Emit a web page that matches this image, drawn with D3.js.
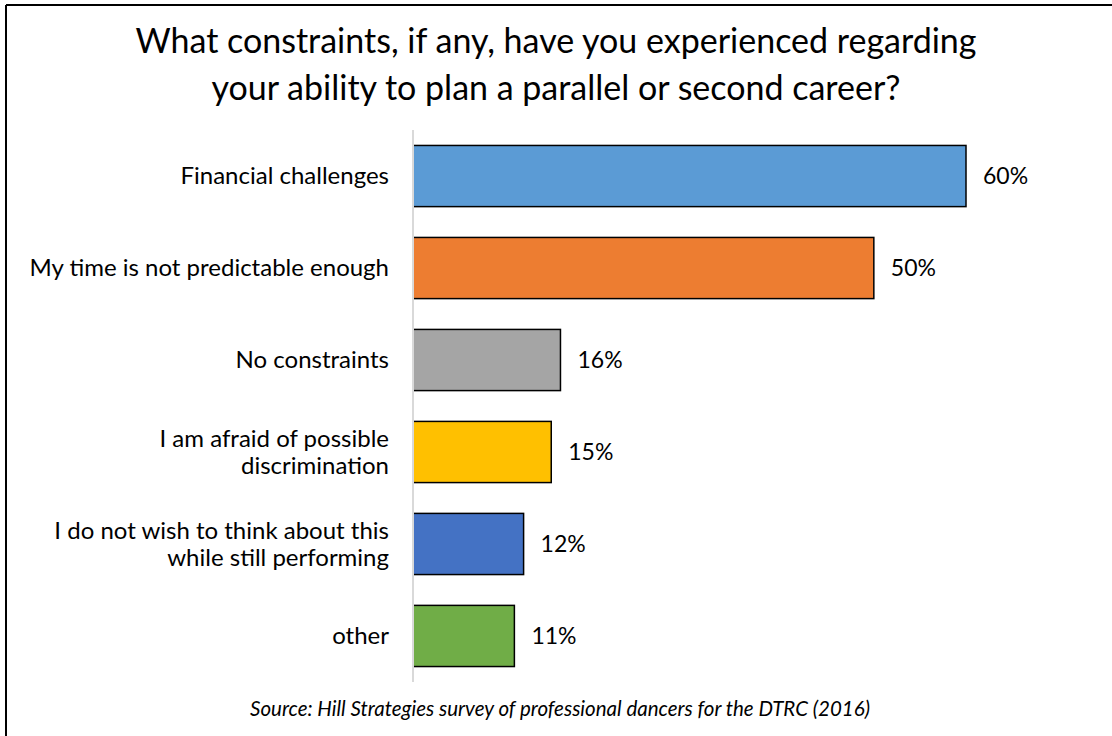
<!DOCTYPE html>
<html>
<head>
<meta charset="utf-8">
<script src="https://cdn.jsdelivr.net/npm/d3@7"></script>
<style>
  html, body { margin: 0; padding: 0; background: #fff; }
  svg { display: block; }
  text { font-family: Lato, "Open Sans", sans-serif; fill: #000; }
</style>
</head>
<body>
<svg id="chart" width="1112" height="736"></svg>
<script>
// Survey answers, one bar per constraint
const categories = [
  ["Financial challenges"],
  ["My time is not predictable enough"],
  ["No constraints"],
  ["I am afraid of possible", "discrimination"],
  ["I do not wish to think about this", "while still performing"],
  ["other"]
];
const values = [60, 50, 16, 15, 12, 11];
const barColors = ["#5B9BD5", "#ED7D31", "#A5A5A5", "#FFC000", "#4472C4", "#70AD47"];
const titleLines = [
  "What constraints, if any, have you experienced regarding",
  "your ability to plan a parallel or second career?"
];
const sourceNote = "Source: Hill Strategies survey of professional dancers for the DTRC (2016)";

const svg = d3.select("#chart");
const W = 1112, H = 736;

// frame (top and left edges visible)
svg.append("line").attr("x1", 6).attr("x2", W).attr("y1", 5).attr("y2", 5)
  .attr("stroke", "#000").attr("stroke-width", 2);
svg.append("line").attr("x1", 6).attr("x2", 6).attr("y1", 5).attr("y2", H)
  .attr("stroke", "#000").attr("stroke-width", 2);

// title
svg.append("text")
  .attr("text-anchor", "middle")
  .style("font-size", "34px")
  .selectAll("tspan").data(titleLines).join("tspan")
  .attr("x", 556)
  .attr("y", (d, i) => 53 + i * 47)
  .text(d => d);

const x0 = 413;
const x = d3.scaleLinear().domain([0, 60]).range([x0, x0 + 553]);
const y = d3.scaleBand().domain(d3.range(values.length)).range([130, 682]).paddingInner(0.335).paddingOuter(0.168);

// bars
svg.append("g").selectAll("rect").data(values).join("rect")
  .attr("x", x(0))
  .attr("y", (d, i) => y(i))
  .attr("width", d => x(d) - x(0))
  .attr("height", y.bandwidth())
  .attr("fill", (d, i) => barColors[i])
  .attr("stroke", "#000")
  .attr("stroke-width", 1.5);

// category axis line
svg.append("line")
  .attr("x1", x0).attr("x2", x0)
  .attr("y1", 130).attr("y2", 682)
  .attr("stroke", "#d9d9d9").attr("stroke-width", 2);

// category labels
const lineH = 27;
svg.append("g").selectAll("text").data(categories).join("text")
  .attr("text-anchor", "end")
  .style("font-size", "24px")
  .each(function (lines, i) {
    const cy = y(i) + y.bandwidth() / 2;
    const top = cy - (lines.length - 1) * lineH / 2;
    d3.select(this).selectAll("tspan").data(lines).join("tspan")
      .attr("x", 389)
      .attr("y", (d, j) => top + j * lineH)
      .attr("dy", "0.34em")
      .text(d => d);
  });

// value labels
svg.append("g").selectAll("text").data(values).join("text")
  .attr("x", d => x(d) + 17)
  .attr("y", (d, i) => y(i) + y.bandwidth() / 2)
  .attr("dy", "0.34em")
  .style("font-size", "23px")
  .text(d => d + "%");

// source note
svg.append("text")
  .attr("x", 560).attr("y", 716)
  .attr("text-anchor", "middle")
  .style("font-size", "20.5px")
  .style("font-style", "italic")
  .text(sourceNote);
</script>
</body>
</html>
